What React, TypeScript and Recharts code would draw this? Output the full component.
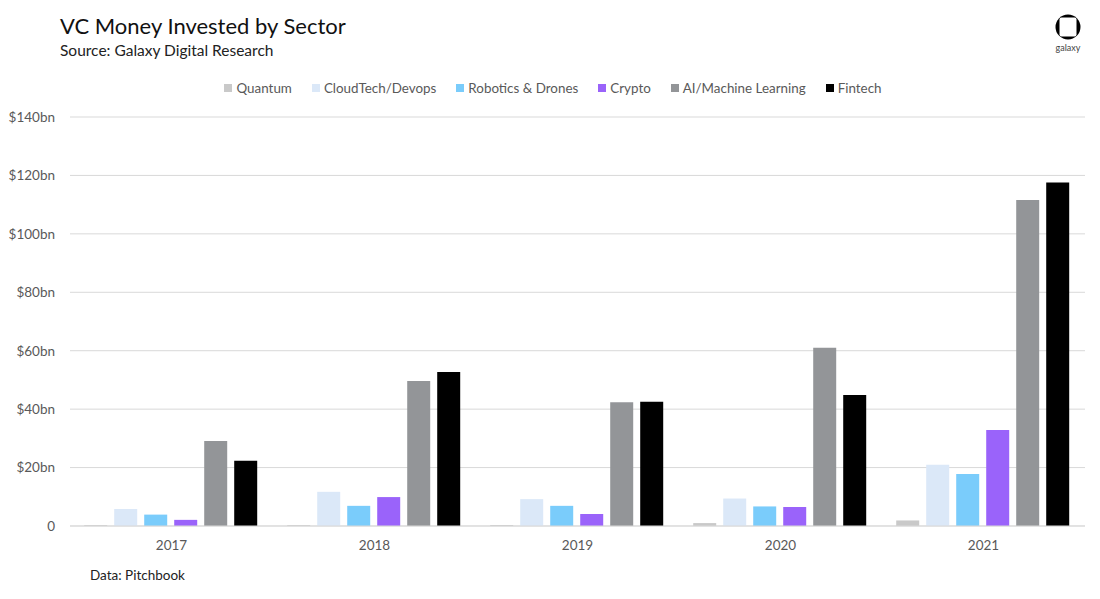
import { BarChart, Bar, XAxis, YAxis, CartesianGrid } from 'recharts';

// Values in $bn
const years = ['2017', '2018', '2019', '2020', '2021'];
const quantum = [0.3, 0.3, 0.3, 1.0, 1.9];
const cloudTech = [5.8, 11.7, 9.2, 9.4, 21.0];
const robotics = [3.9, 6.9, 6.9, 6.7, 17.8];
const crypto = [2.1, 9.9, 4.1, 6.5, 32.9];
const aiMl = [29.1, 49.6, 42.4, 61.0, 111.6];
const fintech = [22.3, 52.7, 42.5, 44.8, 117.6];
const yTicks = [0, 20, 40, 60, 80, 100, 120, 140];

const series = [
  { key: 'quantum', name: 'Quantum', color: '#c9c9c9', values: quantum },
  { key: 'cloudTech', name: 'CloudTech/Devops', color: '#dbe8f8', values: cloudTech },
  { key: 'robotics', name: 'Robotics & Drones', color: '#7accfb', values: robotics },
  { key: 'crypto', name: 'Crypto', color: '#9a63fa', values: crypto },
  { key: 'aiMl', name: 'AI/Machine Learning', color: '#939598', values: aiMl },
  { key: 'fintech', name: 'Fintech', color: '#000000', values: fintech },
];

const data = years.map((year, i) => {
  const row: Record<string, string | number> = { year };
  series.forEach((s) => {
    row[s.key] = s.values[i];
  });
  return row;
});

const FONT = 'Lato, "Open Sans", sans-serif';
const TEXT = '#595959';

const fmtTick = (v: number) => (v === 0 ? '0' : `$${v}bn`);

function Logo() {
  return (
    <div style={{ position: 'absolute', left: 1050, top: 14, width: 36, textAlign: 'center' }}>
      <svg width={26} height={26} viewBox="0 0 26 26" style={{ display: 'block', margin: '0 auto' }}>
        <circle cx={13} cy={13} r={12.5} fill="#000" />
        <rect x={4.5} y={3.5} width={17} height={19} rx={2} fill="#fff" />
      </svg>
      <div style={{ fontSize: 9, color: '#444', marginTop: 2, fontFamily: FONT }}>galaxy</div>
    </div>
  );
}

export default function App() {
  return (
    <div
      style={{
        position: 'absolute',
        left: 0,
        top: 0,
        width: 1100,
        height: 599,
        background: '#fff',
        fontFamily: FONT,
      }}
    >
      <div style={{ position: 'absolute', left: 60, top: 12, fontSize: 22, color: '#111' }}>
        VC Money Invested by Sector
      </div>
      <div style={{ position: 'absolute', left: 60, top: 41, fontSize: 15.5, color: '#222' }}>
        Source: Galaxy Digital Research
      </div>
      <Logo />

      <div
        style={{
          position: 'absolute',
          top: 80,
          left: 0,
          width: 1106,
          display: 'flex',
          justifyContent: 'center',
          gap: 20,
          fontSize: 13.4,
          color: TEXT,
        }}
      >
        {series.map((s) => (
          <div key={s.key} style={{ display: 'flex', alignItems: 'center' }}>
            <span
              style={{ width: 8, height: 8, background: s.color, display: 'inline-block', marginRight: 4 }}
            />
            {s.name}
          </div>
        ))}
      </div>

      <BarChart
        width={1100}
        height={599}
        data={data}
        margin={{ top: 117, right: 15, bottom: 43, left: 8 }}
        barCategoryGap="7%"
        barGap={7}
        style={{ position: 'absolute', left: 0, top: 0 }}
      >
        <CartesianGrid vertical={false} stroke="#d9d9d9" />
        <XAxis
          dataKey="year"
          height={30}
          tickLine={false}
          axisLine={{ stroke: '#d9d9d9' }}
          tick={{ fill: TEXT, fontSize: 13.5, fontFamily: FONT }}
          tickMargin={8}
        />
        <YAxis
          width={62}
          domain={[0, 140]}
          ticks={yTicks}
          tickFormatter={fmtTick}
          axisLine={false}
          tickLine={false}
          tickMargin={9}
          tick={{ fill: TEXT, fontSize: 13.5, fontFamily: FONT }}
        />
        {series.map((s) => (
          <Bar key={s.key} dataKey={s.key} name={s.name} fill={s.color} isAnimationActive={false} />
        ))}
      </BarChart>

      <div style={{ position: 'absolute', left: 90, top: 567, fontSize: 13.5, color: '#222' }}>
        Data: Pitchbook
      </div>
    </div>
  );
}
